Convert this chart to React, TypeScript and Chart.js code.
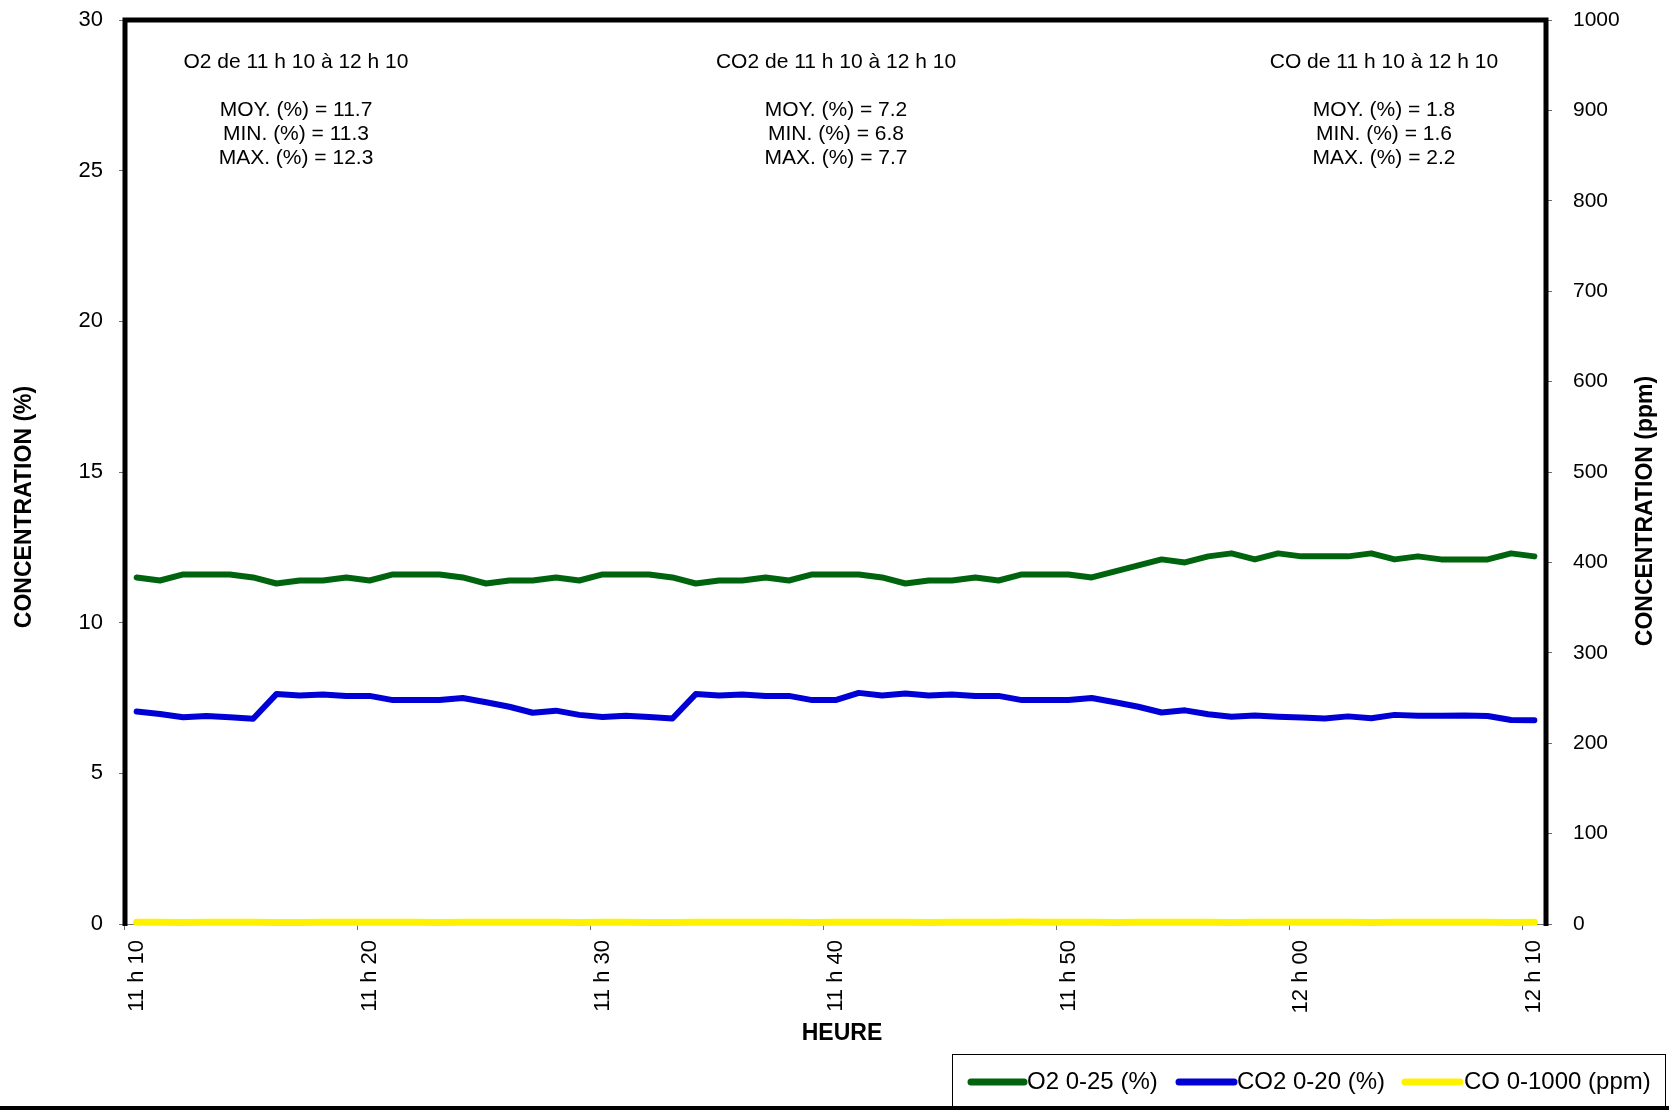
import { useEffect, useRef } from 'react';
import { Chart, registerables } from 'chart.js';

Chart.register(...registerables);

const FONT = '"Liberation Sans", Arial, Helvetica, sans-serif';

// One reading per minute, 11 h 10 to 12 h 10
const START_MINUTE = 11 * 60 + 10;
const READING_COUNT = 61;
const categories: string[] = Array.from({ length: READING_COUNT }, (_, i) => {
  const t = START_MINUTE + i;
  const h = Math.floor(t / 60);
  const m = t % 60;
  return `${h} h ${m < 10 ? '0' + m : m}`;
});

const tickLabels = ['11 h 10', '11 h 20', '11 h 30', '11 h 40', '11 h 50', '12 h 00', '12 h 10'];

// O2 (%)
const o2Values = [
  11.5, 11.4, 11.6, 11.6, 11.6, 11.5, 11.3, 11.4, 11.4,
  11.5, 11.4, 11.6, 11.6, 11.6, 11.5, 11.3, 11.4, 11.4,
  11.5, 11.4, 11.6, 11.6, 11.6, 11.5, 11.3, 11.4, 11.4,
  11.5, 11.4, 11.6, 11.6, 11.6, 11.5, 11.3, 11.4, 11.4,
  11.5, 11.4, 11.6, 11.6, 11.6, 11.5,
  11.7, 11.9, 12.1, 12.0, 12.2, 12.3, 12.1, 12.3, 12.2,
  12.2, 12.2, 12.3, 12.1, 12.2, 12.1, 12.1, 12.1, 12.3, 12.2,
];

// CO2 (%)
const co2Values = [
  7.05, 6.97, 6.86, 6.90, 6.86, 6.81, 7.63, 7.58, 7.62, 7.57,
  7.57, 7.43, 7.43, 7.43, 7.50, 7.36, 7.21, 7.01, 7.08, 6.94,
  6.87, 6.91, 6.87, 6.82, 7.63, 7.58, 7.62, 7.57, 7.57, 7.43,
  7.43, 7.67, 7.58, 7.65, 7.58, 7.62, 7.57, 7.57, 7.43, 7.43,
  7.43, 7.50, 7.36, 7.21, 7.02, 7.09, 6.96, 6.88, 6.92, 6.88,
  6.85, 6.82, 6.89, 6.83, 6.94, 6.91, 6.91, 6.92, 6.90, 6.77,
  6.76,
];

// CO (ppm)
const coValues = [
  1.8, 1.8, 1.7, 1.8, 1.9, 1.8, 1.6, 1.7, 1.8, 1.8,
  1.9, 1.8, 1.8, 1.7, 1.8, 1.8, 1.9, 2.0, 1.8, 1.7,
  1.8, 1.8, 1.6, 1.7, 1.8, 1.9, 1.8, 1.8, 1.8, 1.7,
  1.8, 1.9, 1.8, 1.8, 1.7, 1.8, 1.8, 2.0, 2.2, 1.9,
  1.8, 1.8, 1.7, 1.8, 1.8, 1.9, 1.8, 1.7, 1.8, 1.8,
  1.8, 1.9, 1.8, 1.7, 1.8, 1.8, 1.9, 1.8, 1.8, 1.7,
  1.8,
];

const seriesLabels = ['O2 0-25 (%)', 'CO2 0-20 (%)', 'CO 0-1000 (ppm)'];
const seriesColors = ['#00640F', '#0000D6', '#FFF200'];

// Summary blocks printed at the top of the plot
const gasNames = ['O2', 'CO2', 'CO'];
const statMoy = ['11.7', '7.2', '1.8'];
const statMin = ['11.3', '6.8', '1.6'];
const statMax = ['12.3', '7.7', '2.2'];
const periodText = 'de 11 h 10 à 12 h 10';

const leftTitle = 'CONCENTRATION (%)';
const rightTitle = 'CONCENTRATION (ppm)';
const xTitle = 'HEURE';

const W = 1669;
const H = 1110;

const decorPlugin = {
  id: 'decor',
  afterDraw(chart: any) {
    const { ctx, chartArea: a } = chart;
    ctx.save();

    // heavy frame on left, top and right
    ctx.strokeStyle = '#000';
    ctx.lineWidth = 5;
    ctx.lineJoin = 'miter';
    ctx.beginPath();
    ctx.moveTo(a.left, a.bottom + 2);
    ctx.lineTo(a.left, a.top);
    ctx.lineTo(a.right, a.top);
    ctx.lineTo(a.right, a.bottom + 2);
    ctx.stroke();

    // summary text blocks
    const blockX = [296, 836, 1384];
    ctx.fillStyle = '#000';
    ctx.textAlign = 'center';
    ctx.textBaseline = 'middle';
    ctx.font = `21px ${FONT}`;
    gasNames.forEach((g, i) => {
      const x = blockX[i];
      ctx.fillText(`${g} ${periodText}`, x, 62);
      ctx.fillText(`MOY. (%) = ${statMoy[i]}`, x, 110);
      ctx.fillText(`MIN. (%) = ${statMin[i]}`, x, 134.5);
      ctx.fillText(`MAX. (%) = ${statMax[i]}`, x, 158.5);
    });

    // axis titles
    ctx.font = `bold 23px ${FONT}`;
    ctx.save();
    ctx.translate(25, 507);
    ctx.rotate(-Math.PI / 2);
    ctx.fillText(leftTitle, 0, 0);
    ctx.restore();
    ctx.save();
    ctx.translate(1646, 511);
    ctx.rotate(-Math.PI / 2);
    ctx.fillText(rightTitle, 0, 0);
    ctx.restore();
    ctx.fillText(xTitle, 842, 1034);

    // legend
    ctx.lineWidth = 1;
    ctx.strokeStyle = '#000';
    ctx.strokeRect(952.5, 1054.5, 713, 60);
    const items = [
      { x0: 971, x1: 1024, tx: 1027 },
      { x0: 1179, x1: 1234, tx: 1237 },
      { x0: 1405, x1: 1460, tx: 1464 },
    ];
    ctx.font = `24px ${FONT}`;
    ctx.textAlign = 'left';
    const ly = 1082;
    items.forEach((it, i) => {
      ctx.strokeStyle = seriesColors[i];
      ctx.lineWidth = 7;
      ctx.lineCap = 'round';
      ctx.beginPath();
      ctx.moveTo(it.x0, ly);
      ctx.lineTo(it.x1, ly);
      ctx.stroke();
      ctx.fillStyle = '#000';
      ctx.fillText(seriesLabels[i], it.tx, ly);
    });

    // bottom edge rule
    ctx.fillStyle = '#000';
    ctx.fillRect(0, 1106, W, 4);
    ctx.restore();
  },
};

// fixed axis band sizes; label overhang is left to the outer padding
const fixWidth = (w: number) => (s: any) => {
  s.width = w;
  s.paddingTop = 0;
  s.paddingBottom = 0;
};

export default function App() {
  const canvasRef = useRef<HTMLCanvasElement | null>(null);

  useEffect(() => {
    const canvas = canvasRef.current;
    if (!canvas) return;
    const lineStyle = {
      borderWidth: 6,
      pointRadius: 0,
      pointHoverRadius: 0,
      borderJoinStyle: 'round' as const,
      borderCapStyle: 'round' as const,
      tension: 0,
      fill: false,
      clip: false as const,
    };
    const tickFont = { family: FONT, size: 21 };
    const chart = new Chart(canvas, {
      type: 'line',
      data: {
        labels: categories,
        datasets: [
          { ...lineStyle, label: seriesLabels[0], data: o2Values, borderColor: seriesColors[0], yAxisID: 'y' },
          { ...lineStyle, label: seriesLabels[1], data: co2Values, borderColor: seriesColors[1], yAxisID: 'y' },
          { ...lineStyle, label: seriesLabels[2], data: coValues, borderColor: seriesColors[2], yAxisID: 'y1', borderWidth: 7 },
        ],
      },
      options: {
        responsive: false,
        animation: false,
        devicePixelRatio: 1,
        layout: { padding: { top: 20, left: 0, right: 0, bottom: 0 } },
        plugins: {
          legend: { display: false },
          tooltip: { enabled: false },
          title: { display: false },
        },
        scales: {
          x: {
            type: 'category',
            offset: true,
            grid: {
              offset: true,
              drawOnChartArea: false,
              drawTicks: true,
              tickLength: 6,
              lineWidth: 1,
              color: (c: any) => (c.index !== undefined && c.index % 10 === 0 ? '#6e6e6e' : 'rgba(0,0,0,0)'),
            },
            border: { display: true, color: '#6e6e6e', width: 1 },
            ticks: {
              autoSkip: false,
              minRotation: 90,
              maxRotation: 90,
              padding: 10,
              color: '#000',
              font: { family: FONT, size: 22 },
              callback: (_v: any, i: number) => (i % 10 === 0 ? tickLabels[i / 10] : ''),
            },
            afterFit: (s: any) => {
              s.height = H - 924;
            },
          },
          y: {
            type: 'linear',
            position: 'left',
            min: 0,
            max: 30,
            grid: { drawOnChartArea: false, drawTicks: true, tickLength: 6, color: '#6e6e6e', lineWidth: 1 },
            border: { display: false },
            ticks: { stepSize: 5, padding: 16, color: '#000', font: { family: FONT, size: 22 }, callback: (v: any) => String(v) },
            afterFit: fixWidth(125),
          },
          y1: {
            type: 'linear',
            position: 'right',
            min: 0,
            max: 1000,
            grid: { drawOnChartArea: false, drawTicks: true, tickLength: 6, color: '#6e6e6e', lineWidth: 1 },
            border: { display: false },
            ticks: { stepSize: 100, padding: 21, color: '#000', font: tickFont, callback: (v: any) => String(v) },
            afterFit: fixWidth(W - 1546),
          },
        },
      },
      plugins: [decorPlugin],
    });
    return () => chart.destroy();
  }, []);

  return (
    <div style={{ position: 'absolute', left: 0, top: 0, width: W, height: H, background: '#fff' }}>
      <canvas ref={canvasRef} width={W} height={H} style={{ display: 'block', width: W, height: H }} />
    </div>
  );
}
